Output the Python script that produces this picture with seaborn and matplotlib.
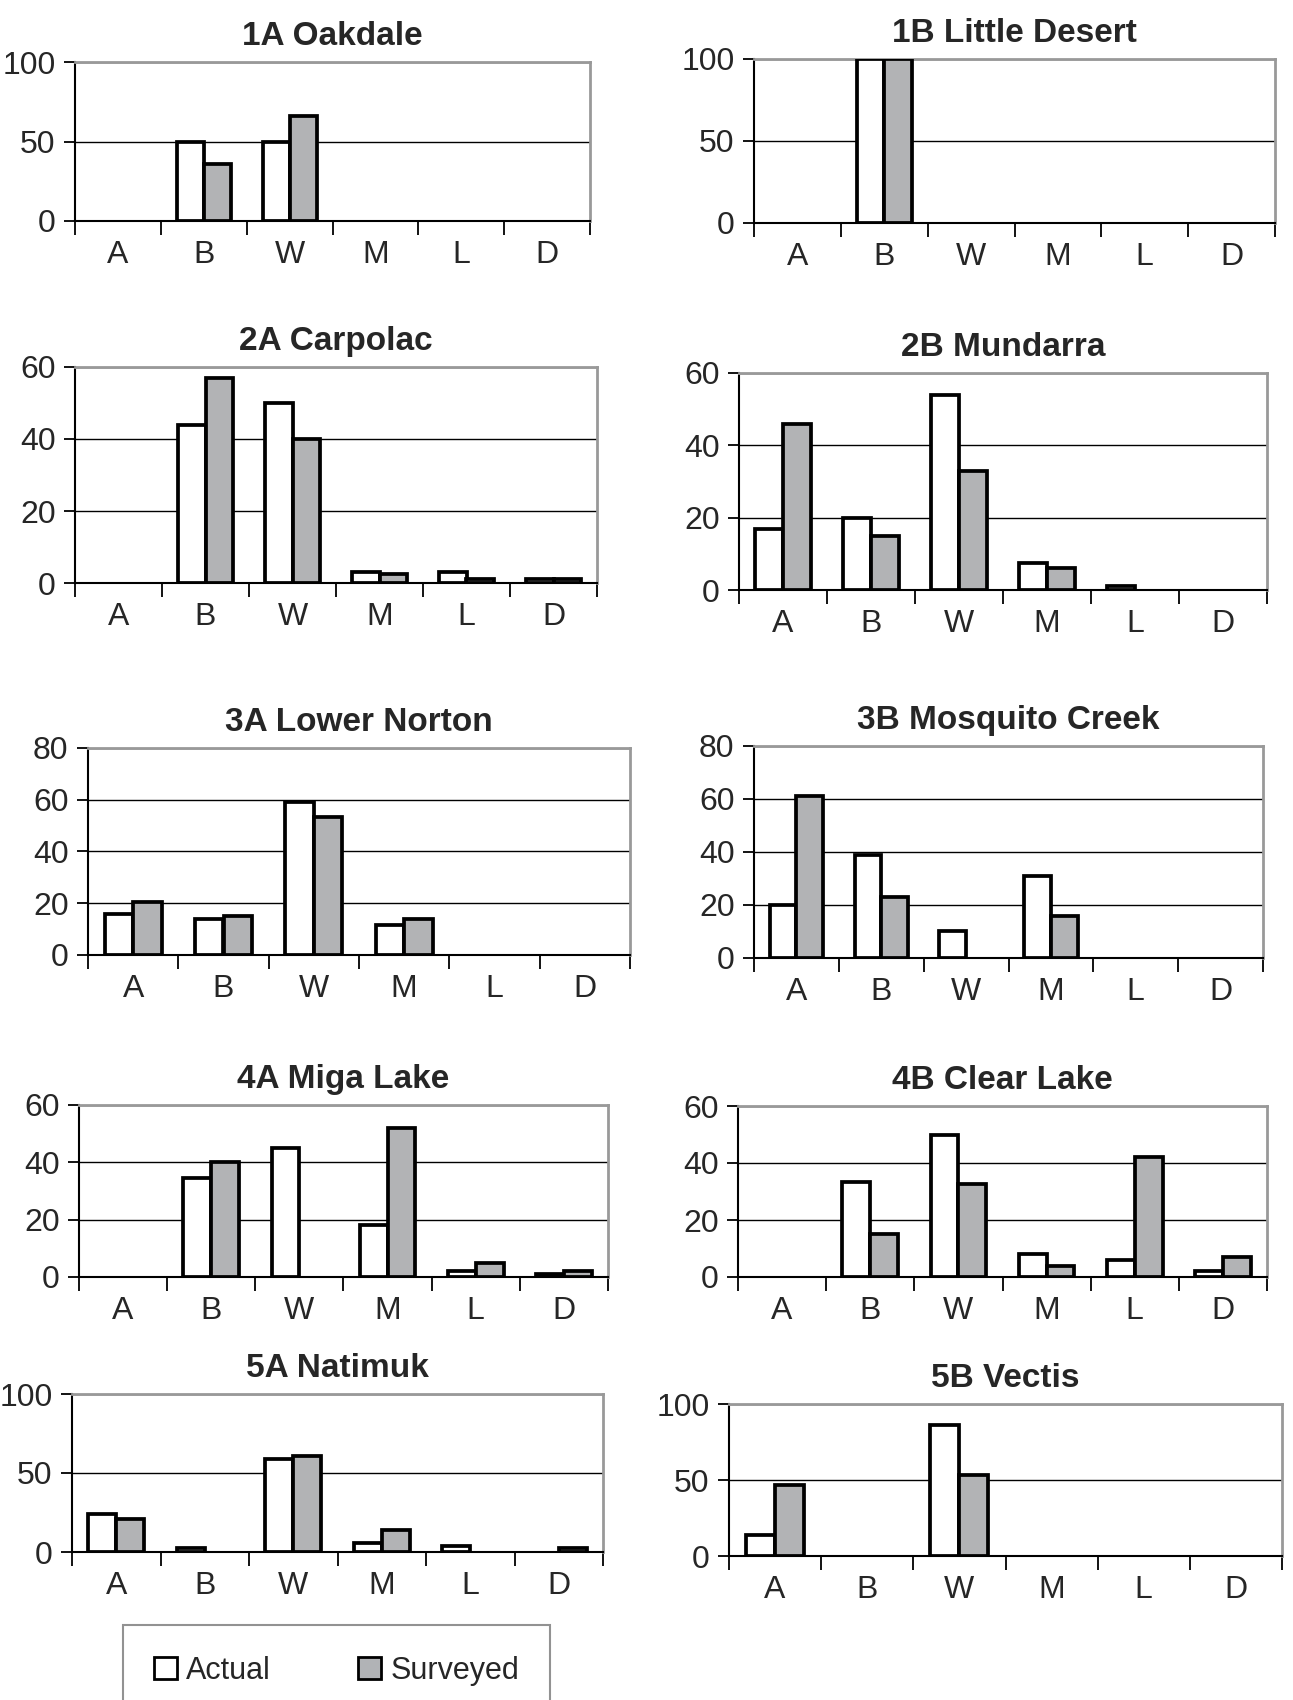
import numpy as np
import pandas as pd
import seaborn as sns
import matplotlib.pyplot as plt
from matplotlib.patches import Patch

categories = ["A", "B", "W", "M", "L", "D"]

# percentages per site
oakdale_actual = [0, 50, 50, 0, 0, 0]
oakdale_surveyed = [0, 36, 66, 0, 0, 0]
little_desert_actual = [0, 100, 0, 0, 0, 0]
little_desert_surveyed = [0, 100, 0, 0, 0, 0]
carpolac_actual = [0, 44, 50, 3, 3, 1]
carpolac_surveyed = [0, 57, 40, 2.5, 1, 1]
mundarra_actual = [17, 20, 54, 7.5, 1, 0]
mundarra_surveyed = [46, 15, 33, 6, 0, 0]
lower_norton_actual = [16, 14, 59, 11.5, 0, 0]
lower_norton_surveyed = [20.5, 15, 53.5, 14, 0, 0]
mosquito_creek_actual = [20, 39, 10, 31, 0, 0]
mosquito_creek_surveyed = [61, 23, 0, 16, 0, 0]
miga_lake_actual = [0, 34.5, 45, 18, 2, 1]
miga_lake_surveyed = [0, 40, 0, 52, 5, 2]
clear_lake_actual = [0, 33.5, 50, 8, 6, 2]
clear_lake_surveyed = [0, 15, 32.5, 4, 42, 7]
natimuk_actual = [24, 2.5, 59, 6, 3.5, 0]
natimuk_surveyed = [21, 0, 61, 14, 0, 2.8]
vectis_actual = [14, 0, 86, 0, 0, 0]
vectis_surveyed = [47, 0, 53.5, 0, 0, 0]

titles = ["1A Oakdale", "1B Little Desert", "2A Carpolac", "2B Mundarra",
          "3A Lower Norton", "3B Mosquito Creek", "4A Miga Lake", "4B Clear Lake",
          "5A Natimuk", "5B Vectis"]
actual = [oakdale_actual, little_desert_actual, carpolac_actual, mundarra_actual,
          lower_norton_actual, mosquito_creek_actual, miga_lake_actual, clear_lake_actual,
          natimuk_actual, vectis_actual]
surveyed = [oakdale_surveyed, little_desert_surveyed, carpolac_surveyed, mundarra_surveyed,
            lower_norton_surveyed, mosquito_creek_surveyed, miga_lake_surveyed, clear_lake_surveyed,
            natimuk_surveyed, vectis_surveyed]
y_max = [100, 100, 60, 60, 80, 80, 60, 60, 100, 100]
y_step = [50, 50, 20, 20, 20, 20, 20, 20, 50, 50]

# axes boxes in pixels: left, right, top, bottom
boxes = [(75, 590, 62, 221), (754, 1275, 59, 223),
         (75, 597, 367, 583), (739, 1267, 373, 590),
         (88, 630, 748, 955), (754, 1263, 746, 958),
         (79, 608, 1105, 1277), (738, 1267, 1106, 1277),
         (72, 603, 1394, 1552), (729, 1282, 1404, 1556)]

W, H = 1293, 1700
sns.set_style("white")
plt.rcParams['font.family'] = ['Liberation Sans', 'DejaVu Sans']

palette = {"Actual": "white", "Surveyed": "#b1b3b6"}
fig = plt.figure(figsize=(W / 100, H / 100), dpi=100)

for i, title in enumerate(titles):
    l, r, t, b = boxes[i]
    ax = fig.add_axes([l / W, 1 - b / H, (r - l) / W, (b - t) / H])
    df = pd.DataFrame({
        "cls": categories * 2,
        "pct": actual[i] + surveyed[i],
        "series": ["Actual"] * 6 + ["Surveyed"] * 6,
    })
    sns.barplot(data=df, x="cls", y="pct", hue="series", order=categories,
                hue_order=["Actual", "Surveyed"], palette=palette,
                edgecolor="black", linewidth=2.7, width=0.63, legend=False,
                ax=ax, zorder=3)
    # empty classes should leave no outline on the baseline
    for p in ax.patches:
        if p.get_height() == 0:
            p.set_linewidth(0)
    ax.set_xlim(-0.5, 5.5)
    ax.set_ylim(0, y_max[i])
    ax.set_yticks(np.arange(0, y_max[i] + 1, y_step[i]))
    ax.yaxis.grid(True, color="black", linewidth=1)
    ax.set_axisbelow(True)
    ax.set_xlabel("")
    ax.set_ylabel("")
    ax.set_xticks(range(6))
    ax.set_xticklabels(categories)
    ax.set_xticks(np.arange(-0.5, 6, 1), minor=True)
    ax.tick_params(axis="x", which="major", bottom=True, length=0, pad=14, labelsize=23)
    ax.tick_params(axis="x", which="minor", bottom=True, length=10, width=1.3,
                   direction="out", color="black")
    ax.tick_params(axis="y", left=True, length=8, width=1.3, direction="out",
                   color="black", labelsize=23, pad=6)
    for side in ["left", "bottom"]:
        ax.spines[side].set_color("black")
        ax.spines[side].set_linewidth(1.5)
    for side in ["top", "right"]:
        ax.spines[side].set_color("#999999")
        ax.spines[side].set_linewidth(2)
    ax.set_title(title, fontsize=24, fontweight="bold", pad=12)

handles = [Patch(facecolor="white", edgecolor="black", linewidth=2),
           Patch(facecolor="#b1b3b6", edgecolor="black", linewidth=2)]
leg = fig.legend(handles, ["Actual", "Surveyed"], ncol=2, mode="expand",
                 bbox_to_anchor=(108 / W, -0.02, (565 - 108) / W, (1700 - 1610) / H + 0.02),
                 loc="upper left", fontsize=22, frameon=True, fancybox=False,
                 edgecolor="#777777", handlelength=0.75, handleheight=0.75,
                 handletextpad=0.3, borderpad=1.0, columnspacing=2.0)
leg.get_frame().set_linewidth(1.5)

fig.savefig("out.png", dpi=100)
